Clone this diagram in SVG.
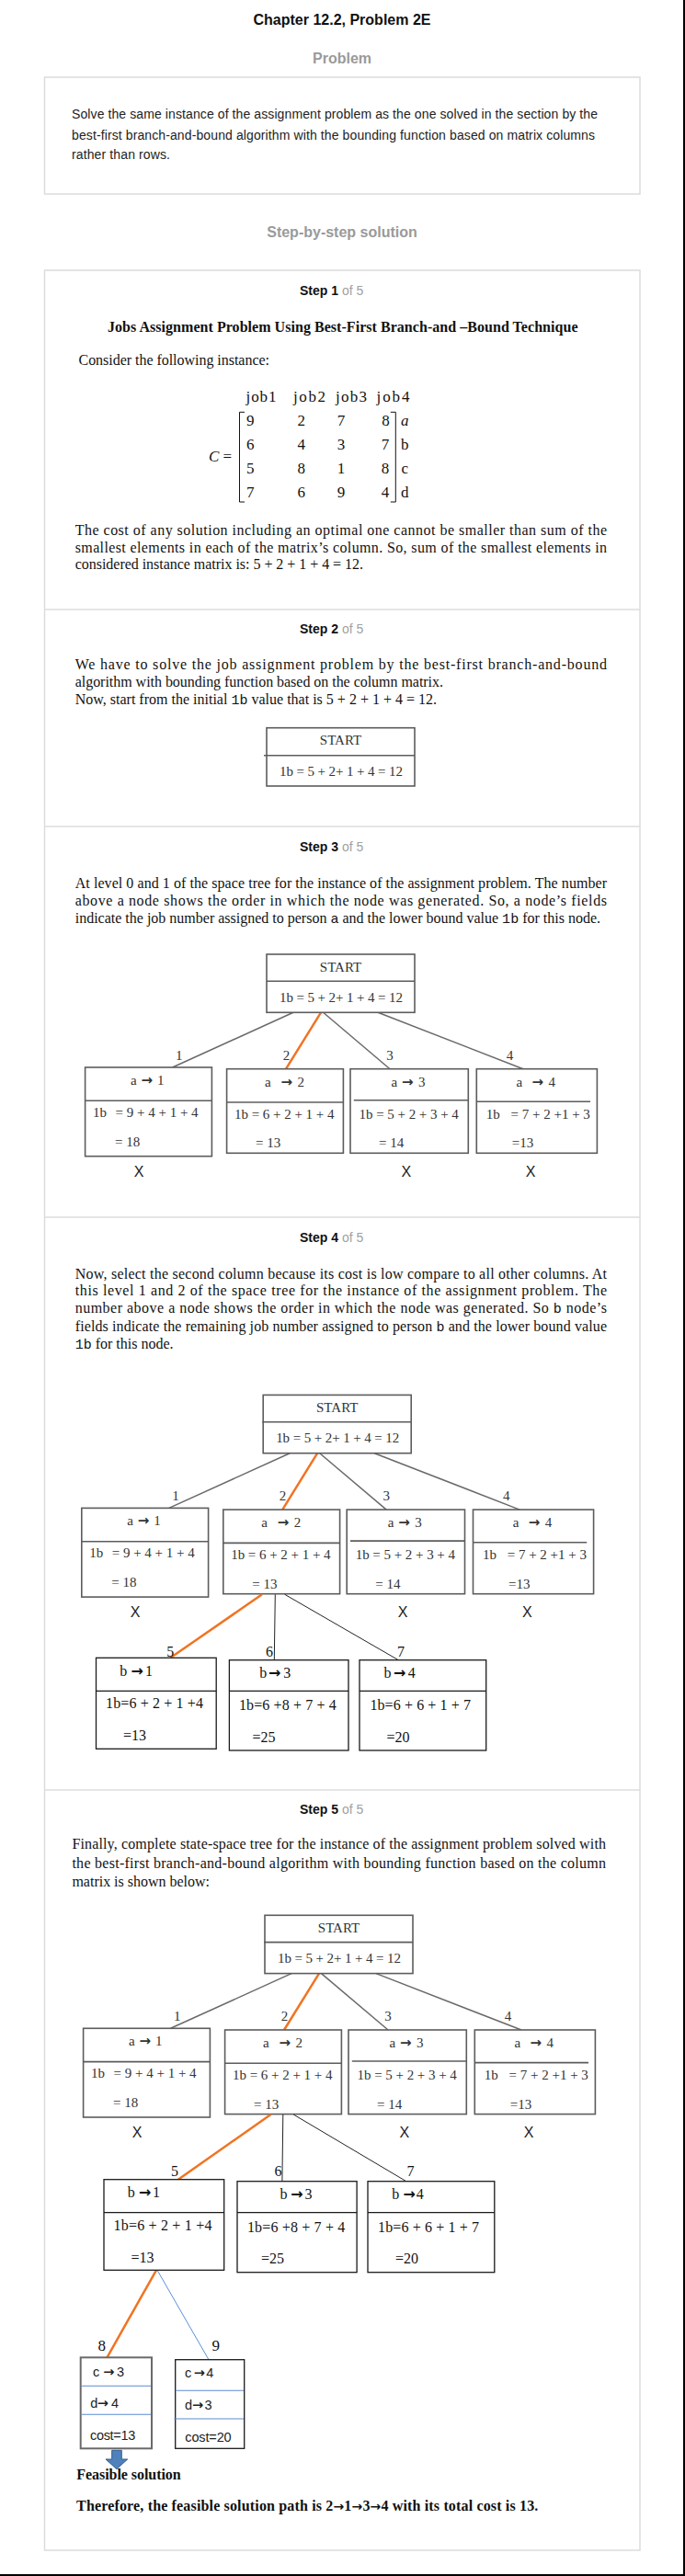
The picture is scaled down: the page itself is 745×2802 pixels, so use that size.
<svg xmlns="http://www.w3.org/2000/svg" width="745" height="2802" viewBox="0 0 745 2802">
<style>
.frame{fill:none;stroke:#dcdcdc;stroke-width:1.5}
.sep{stroke:#dcdcdc;stroke-width:1.5}
.mono{font-family:"Liberation Mono","Courier New",monospace;font-size:15px}
.ar{font-family:"DejaVu Sans",sans-serif;font-weight:bold}
.hd{font:bold 16px "Liberation Sans",Arial,sans-serif;fill:#111}
.gh{font:bold 16px "Liberation Sans",Arial,sans-serif;fill:#9a9a9a}
.st{font:bold 14px "Liberation Sans",Arial,sans-serif;fill:#111}
.of{font-weight:normal;fill:#a0a0a0}
.pb{font:14px "Liberation Sans",Arial,sans-serif;fill:#222}
.p{font:16px "Liberation Serif","Times New Roman",serif;fill:#111}
.pB{font:bold 16px "Liberation Serif","Times New Roman",serif;fill:#111}
.mx{font:17px "Liberation Serif","Times New Roman",serif;fill:#111}
.it{font-style:italic}
.bx{fill:#fff;stroke:#5c5c5c;stroke-width:1.6}
.dv{stroke:#5c5c5c;stroke-width:1.6}
.bk{fill:#fff;stroke:#1a1a1a;stroke-width:1.3}
.dk{stroke:#1a1a1a;stroke-width:1.3}
.bg{fill:#fff;stroke:#6a6a6a;stroke-width:2}
.db{stroke:#5b8bd0;stroke-width:1.1}
.tn{font:15px "Liberation Serif","Times New Roman",serif;fill:#333}
.tk{font:16px "Liberation Serif","Times New Roman",serif;fill:#111}
.tk17{font:17px "Liberation Serif","Times New Roman",serif;fill:#111}
.tc{font:14.5px "Liberation Sans",Arial,sans-serif;fill:#222}
.xm{font:16px "Liberation Sans",Arial,sans-serif;fill:#222;text-anchor:middle}
.ln{stroke:#6a6a6a;stroke-width:1.5;fill:none}
.or{stroke:#f07423;stroke-width:2.5;fill:none}
.lk{stroke:#222;stroke-width:1;fill:none}
.lb{stroke:#5b8fd6;stroke-width:1;fill:none}
.sa{font-size:14px}
</style>

<!-- page edges -->
<line x1="744" y1="0" x2="744" y2="2802" stroke="#000" stroke-width="2"/>
<line x1="0" y1="2801" x2="745" y2="2801" stroke="#000" stroke-width="2"/>

<!-- header -->
<text class="hd" x="372" y="27" text-anchor="middle">Chapter 12.2, Problem 2E</text>
<text class="gh" x="372" y="69" text-anchor="middle">Problem</text>
<rect class="frame" x="48.5" y="84" width="647.5" height="127"/>
<text class="pb" x="78" y="129" textLength="572">Solve the same instance of the assignment problem as the one solved in the section by the</text>
<text class="pb" x="78" y="151.5" textLength="569">best-first branch-and-bound algorithm with the bounding function based on matrix columns</text>
<text class="pb" x="78" y="173" textLength="107">rather than rows.</text>
<text class="gh" x="372" y="257.5" text-anchor="middle">Step-by-step solution</text>

<!-- solution frame -->
<rect class="frame" x="48.5" y="294" width="647.5" height="2480"/>
<line class="sep" x1="48.5" y1="663" x2="696" y2="663"/>
<line class="sep" x1="48.5" y1="899" x2="696" y2="899"/>
<line class="sep" x1="48.5" y1="1324" x2="696" y2="1324"/>
<line class="sep" x1="48.5" y1="1947" x2="696" y2="1947"/>

<!-- STEP 1 -->
<text class="st" x="326" y="320.5">Step 1 <tspan class="of">of 5</tspan></text>
<text class="pB" x="117" y="361" textLength="511.5">Jobs Assignment Problem Using Best-First Branch-and –Bound Technique</text>
<text class="p" x="85.5" y="396.7" textLength="207.5">Consider the following instance:</text>
<g id="matrix">
<text class="mx" x="267.5" y="436.7" textLength="33">job1</text>
<text class="mx" x="319" y="436.7" textLength="35">job2</text>
<text class="mx" x="365" y="436.7" textLength="34">job3</text>
<text class="mx" x="409.5" y="436.7" textLength="36">job4</text>
<text class="mx" x="227" y="502"><tspan class="it">C</tspan> =</text>
<path d="M266,448.3 H260.5 V546 H266" stroke="#111" stroke-width="1" fill="none"/>
<path d="M424.8,448.3 H430.3 V546 H424.8" stroke="#111" stroke-width="1" fill="none"/>
<g class="mx" text-anchor="middle">
<text x="272.3" y="462.7">9</text><text x="327.8" y="462.7">2</text><text x="371" y="462.7">7</text><text x="419.5" y="462.7">8</text>
<text x="272.3" y="489.3">6</text><text x="327.8" y="489.3">4</text><text x="371" y="489.3">3</text><text x="419" y="489.3">7</text>
<text x="272.3" y="515.3">5</text><text x="327.8" y="515.3">8</text><text x="371" y="515.3">1</text><text x="419" y="515.3">8</text>
<text x="272.3" y="541">7</text><text x="327.8" y="541">6</text><text x="371" y="541">9</text><text x="419" y="541">4</text>
</g>
<text class="mx it" x="436" y="462.7">a</text>
<text class="mx" x="436" y="489.3">b</text>
<text class="mx" x="436.5" y="515.3">c</text>
<text class="mx" x="436" y="541">d</text>
</g>
<text class="p" x="81.7" y="581.7" textLength="578.3">The cost of any solution including an optimal one cannot be smaller than sum of the</text>
<text class="p" x="81.7" y="600.7" textLength="578.3">smallest elements in each of the matrix’s column. So, sum of the smallest elements in</text>
<text class="p" x="81.7" y="619.3" textLength="313.3">considered instance matrix is: 5 + 2 + 1 + 4 = 12.</text>

<!-- STEP 2 -->
<text class="st" x="326" y="689.3">Step 2 <tspan class="of">of 5</tspan></text>
<text class="p" x="81.7" y="728.3" textLength="578.3">We have to solve the job assignment problem by the best-first branch-and-bound</text>
<text class="p" x="81.7" y="746.7" textLength="400.3">algorithm with bounding function based on the column matrix.</text>
<text class="p" x="81.7" y="766" textLength="393.3">Now, start from the initial <tspan class="mono">1b</tspan> value that is 5 + 2 + 1 + 4 = 12.</text>
<g id="s2-start" transform="translate(290,791.7)">
<rect class="bx" x="0" y="0" width="161" height="63.3"/>
<line class="dv" x1="-3" y1="30" x2="161" y2="30"/>
<text class="tn" x="80.5" y="18.4" text-anchor="middle">START</text>
<text class="tn" x="14" y="52.3" textLength="134">1b = 5 + 2+ 1 + 4 = 12</text>
</g>

<!-- STEP 3 -->
<text class="st" x="326" y="925.5">Step 3 <tspan class="of">of 5</tspan></text>
<text class="p" x="81.7" y="966" textLength="578.3">At level 0 and 1 of the space tree for the instance of the assignment problem. The number</text>
<text class="p" x="81.7" y="985" textLength="578.3">above a node shows the order in which the node was generated. So, a node’s fields</text>
<text class="p" x="81.7" y="1004.3" textLength="571.3">indicate the job number assigned to person <tspan class="mono">a</tspan> and the lower bound value <tspan class="mono">1b</tspan> for this node.</text>

<g id="s3-connectors">
<line class="ln" x1="319" y1="1101.3" x2="187.6" y2="1161"/>
<line class="or" x1="349" y1="1101.3" x2="311" y2="1162.7"/>
<line class="ln" x1="351.5" y1="1101.3" x2="424" y2="1162.7"/>
<line class="ln" x1="411" y1="1101.3" x2="569" y2="1162.7"/>
<g class="tn" text-anchor="middle">
<text x="194.8" y="1152.7">1</text><text x="311.4" y="1152.7">2</text><text x="424" y="1152.7">3</text><text x="554.6" y="1152.7">4</text>
</g>
</g>
<g id="s3-start" transform="translate(290,1038)">
<rect class="bx" x="0" y="0" width="161" height="63.3"/>
<line class="dv" x1="0" y1="29.3" x2="161" y2="29.3"/>
<text class="tn" x="80.5" y="18.7" text-anchor="middle">START</text>
<text class="tn" x="14" y="52" textLength="134">1b = 5 + 2+ 1 + 4 = 12</text>
</g>
<g id="s3-a1">
<rect class="bx" x="92.6" y="1161" width="137.8" height="96.7"/>
<line class="dv" x1="92.6" y1="1197.3" x2="230.4" y2="1197.3"/>
<text class="tn" y="1180"><tspan x="142">a</tspan><tspan class="ar" x="153.5">→</tspan><tspan x="171">1</tspan></text>
<text class="tn" y="1215"><tspan x="101">1b</tspan><tspan x="125.5">= 9 + 4 + 1 + 4</tspan></text>
<text class="tn" x="125" y="1246.7">= 18</text>
</g>
<g id="s3-a2">
<rect class="bx" x="246.6" y="1162.7" width="126.8" height="91.6"/>
<line class="dv" x1="246.6" y1="1199" x2="373.4" y2="1199"/>
<text class="tn" y="1182"><tspan x="288">a</tspan><tspan class="ar" x="305.5">→</tspan><tspan x="323.5">2</tspan></text>
<text class="tn" x="255" y="1216.7" textLength="108.4">1b = 6 + 2 + 1 + 4</text>
<text class="tn" x="278" y="1248.3">= 13</text>
</g>
<g id="s3-a3">
<rect class="bx" x="381" y="1162.7" width="128.3" height="91.6"/>
<line class="dv" x1="384.8" y1="1196.7" x2="509.3" y2="1196.7"/>
<text class="tn" y="1182"><tspan x="425.6">a</tspan><tspan class="ar" x="437">→</tspan><tspan x="455">3</tspan></text>
<text class="tn" x="390.5" y="1216.7" textLength="108.3">1b = 5 + 2 + 3 + 4</text>
<text class="tn" x="412" y="1248.3">= 14</text>
</g>
<g id="s3-a4">
<rect class="bx" x="518.3" y="1162.7" width="131.1" height="91.6"/>
<line class="dv" x1="518.3" y1="1198.3" x2="642" y2="1198.3"/>
<text class="tn" y="1182"><tspan x="561.5">a</tspan><tspan class="ar" x="578.6">→</tspan><tspan x="596.6">4</tspan></text>
<text class="tn" y="1216.7"><tspan x="528.7">1b</tspan><tspan x="555.5">= 7 + 2 +1 + 3</tspan></text>
<text class="tn" x="556.8" y="1248.3">=13</text>
</g>
<text class="xm" x="151" y="1280">X</text>
<text class="xm" x="441.8" y="1280">X</text>
<text class="xm" x="577.2" y="1280">X</text>

<!-- STEP 4 -->
<text class="st" x="326" y="1350.5">Step 4 <tspan class="of">of 5</tspan></text>
<text class="p" x="81.7" y="1390.7" textLength="578.3">Now, select the second column because its cost is low compare to all other columns. At</text>
<text class="p" x="81.7" y="1409" textLength="578.3">this level 1 and 2 of the space tree for the instance of the assignment problem. The</text>
<text class="p" x="81.7" y="1428.3" textLength="578.3">number above a node shows the order in which the node was generated. So <tspan class="mono">b</tspan> node’s</text>
<text class="p" x="81.7" y="1447.7" textLength="578.3">fields indicate the remaining job number assigned to person <tspan class="mono">b</tspan> and the lower bound value</text>
<text class="p" x="81.7" y="1467.3" textLength="106.9"><tspan class="mono">1b</tspan> for this node.</text>

<g transform="translate(-3.8,479.4)">
<g id="s4-connectors-top">
<line class="ln" x1="319" y1="1101.3" x2="187.6" y2="1161"/>
<line class="or" x1="349" y1="1101.3" x2="311" y2="1162.7"/>
<line class="ln" x1="351.5" y1="1101.3" x2="424" y2="1162.7"/>
<line class="ln" x1="411" y1="1101.3" x2="569" y2="1162.7"/>
<g class="tn" text-anchor="middle">
<text x="194.8" y="1152.7">1</text><text x="311.4" y="1152.7">2</text><text x="424" y="1152.7">3</text><text x="554.6" y="1152.7">4</text>
</g>
</g>
<g id="s4-start" transform="translate(290,1038)">
<rect class="bx" x="0" y="0" width="161" height="63.3"/>
<line class="dv" x1="-1" y1="29.3" x2="161" y2="29.3"/>
<text class="tn" x="80.5" y="18.7" text-anchor="middle">START</text>
<text class="tn" x="14" y="52" textLength="134">1b = 5 + 2+ 1 + 4 = 12</text>
</g>
<g id="s4-a1">
<rect class="bx" x="92.6" y="1161" width="137.8" height="96.7"/>
<line class="dv" x1="92.6" y1="1197.3" x2="230.4" y2="1197.3"/>
<text class="tn" y="1180"><tspan x="142">a</tspan><tspan class="ar" x="153.5">→</tspan><tspan x="171">1</tspan></text>
<text class="tn" y="1215"><tspan x="101">1b</tspan><tspan x="125.5">= 9 + 4 + 1 + 4</tspan></text>
<text class="tn" x="125" y="1246.7">= 18</text>
</g>
<g id="s4-a2">
<rect class="bx" x="246.6" y="1162.7" width="126.8" height="91.6"/>
<line class="dv" x1="246.6" y1="1199" x2="373.4" y2="1199"/>
<text class="tn" y="1182"><tspan x="288">a</tspan><tspan class="ar" x="305.5">→</tspan><tspan x="323.5">2</tspan></text>
<text class="tn" x="255" y="1216.7" textLength="108.4">1b = 6 + 2 + 1 + 4</text>
<text class="tn" x="278" y="1248.3">= 13</text>
</g>
<g id="s4-a3">
<rect class="bx" x="381" y="1162.7" width="128.3" height="91.6"/>
<line class="dv" x1="384.8" y1="1196.7" x2="509.3" y2="1196.7"/>
<text class="tn" y="1182"><tspan x="425.6">a</tspan><tspan class="ar" x="437">→</tspan><tspan x="455">3</tspan></text>
<text class="tn" x="390.5" y="1216.7" textLength="108.3">1b = 5 + 2 + 3 + 4</text>
<text class="tn" x="412" y="1248.3">= 14</text>
</g>
<g id="s4-a4">
<rect class="bx" x="518.3" y="1162.7" width="131.1" height="91.6"/>
<line class="dv" x1="518.3" y1="1198.3" x2="642" y2="1198.3"/>
<text class="tn" y="1182"><tspan x="561.5">a</tspan><tspan class="ar" x="578.6">→</tspan><tspan x="596.6">4</tspan></text>
<text class="tn" y="1216.7"><tspan x="528.7">1b</tspan><tspan x="555.5">= 7 + 2 +1 + 3</tspan></text>
<text class="tn" x="556.8" y="1248.3">=13</text>
</g>
<text class="xm" x="151" y="1280">X</text>
<text class="xm" x="441.8" y="1280">X</text>
<text class="xm" x="577.2" y="1280">X</text>
</g>

<g id="s4-connectors-b">
<line class="or" x1="285" y1="1734.3" x2="185.3" y2="1803.3"/>
<line class="lk" x1="299.3" y1="1734.3" x2="298.3" y2="1805.7"/>
<line class="lk" x1="309.7" y1="1734.3" x2="433.3" y2="1805.7"/>
<g class="tk" text-anchor="middle">
<text x="185.3" y="1801.7">5</text><text x="293" y="1801.7">6</text><text x="436" y="1801.7">7</text>
</g>
</g>
<g id="s4-b1">
<rect class="bk" x="104.5" y="1803.3" width="130.7" height="99"/>
<line class="dk" x1="104.5" y1="1839.3" x2="235.2" y2="1839.3"/>
<text class="tk" y="1822.7"><tspan x="130.2">b</tspan><tspan class="ar" x="142.5">→</tspan><tspan x="158">1</tspan></text>
<text class="tk" x="115" y="1858.3" textLength="106">1b=6 + 2 + 1 +4</text>
<text class="tk" x="134" y="1893.3">=13</text>
</g>
<g id="s4-b3">
<rect class="bk" x="249.4" y="1805.7" width="129.6" height="98.3"/>
<line class="dk" x1="249.4" y1="1839.3" x2="379" y2="1839.3"/>
<text class="tk" y="1825"><tspan x="282.3">b</tspan><tspan class="ar" x="292">→</tspan><tspan x="308.3">3</tspan></text>
<text class="tk" x="259.9" y="1860" textLength="105.9">1b=6 +8 + 7 + 4</text>
<text class="tk" x="274.6" y="1895">=25</text>
</g>
<g id="s4-b4">
<rect class="bk" x="391" y="1805.7" width="137.7" height="98.3"/>
<line class="dk" x1="391" y1="1839.3" x2="528.7" y2="1839.3"/>
<text class="tk" y="1825"><tspan x="417.6">b</tspan><tspan class="ar" x="428">→</tspan><tspan x="443.7">4</tspan></text>
<text class="tk" x="402.4" y="1860" textLength="109.6">1b=6 + 6 + 1 + 7</text>
<text class="tk" x="420.4" y="1895">=20</text>
</g>

<!-- STEP 5 -->
<text class="st" x="326" y="1972.5">Step 5 <tspan class="of">of 5</tspan></text>
<text class="p" x="78.4" y="2010.7" textLength="580.6">Finally, complete state-space tree for the instance of the assignment problem solved with</text>
<text class="p" x="78.4" y="2031.7" textLength="580.6">the best-first branch-and-bound algorithm with bounding function based on the column</text>
<text class="p" x="78.4" y="2052.3" textLength="149.6">matrix is shown below:</text>

<g transform="translate(-2,1045.3)">
<g id="s5-connectors-top">
<line class="ln" x1="319" y1="1101.3" x2="187.6" y2="1161"/>
<line class="or" x1="349" y1="1101.3" x2="311" y2="1162.7"/>
<line class="ln" x1="351.5" y1="1101.3" x2="424" y2="1162.7"/>
<line class="ln" x1="411" y1="1101.3" x2="569" y2="1162.7"/>
<g class="tn" text-anchor="middle">
<text x="194.8" y="1152.7">1</text><text x="311.4" y="1152.7">2</text><text x="424" y="1152.7">3</text><text x="554.6" y="1152.7">4</text>
</g>
</g>
<g id="s5-start" transform="translate(290,1038)">
<rect class="bx" x="0" y="0" width="161" height="63.3"/>
<line class="dv" x1="-1" y1="29.3" x2="161" y2="29.3"/>
<text class="tn" x="80.5" y="18.7" text-anchor="middle">START</text>
<text class="tn" x="14" y="52" textLength="134">1b = 5 + 2+ 1 + 4 = 12</text>
</g>
<g id="s5-a1">
<rect class="bx" x="92.6" y="1161" width="137.8" height="96.7"/>
<line class="dv" x1="92.6" y1="1197.3" x2="230.4" y2="1197.3"/>
<text class="tn" y="1180"><tspan x="142">a</tspan><tspan class="ar" x="153.5">→</tspan><tspan x="171">1</tspan></text>
<text class="tn" y="1215"><tspan x="101">1b</tspan><tspan x="125.5">= 9 + 4 + 1 + 4</tspan></text>
<text class="tn" x="125" y="1246.7">= 18</text>
</g>
<g id="s5-a2">
<rect class="bx" x="246.6" y="1162.7" width="126.8" height="91.6"/>
<line class="dv" x1="246.6" y1="1199" x2="373.4" y2="1199"/>
<text class="tn" y="1182"><tspan x="288">a</tspan><tspan class="ar" x="305.5">→</tspan><tspan x="323.5">2</tspan></text>
<text class="tn" x="255" y="1216.7" textLength="108.4">1b = 6 + 2 + 1 + 4</text>
<text class="tn" x="278" y="1248.3">= 13</text>
</g>
<g id="s5-a3">
<rect class="bx" x="381" y="1162.7" width="128.3" height="91.6"/>
<line class="dv" x1="384.8" y1="1196.7" x2="509.3" y2="1196.7"/>
<text class="tn" y="1182"><tspan x="425.6">a</tspan><tspan class="ar" x="437">→</tspan><tspan x="455">3</tspan></text>
<text class="tn" x="390.5" y="1216.7" textLength="108.3">1b = 5 + 2 + 3 + 4</text>
<text class="tn" x="412" y="1248.3">= 14</text>
</g>
<g id="s5-a4">
<rect class="bx" x="518.3" y="1162.7" width="131.1" height="91.6"/>
<line class="dv" x1="518.3" y1="1198.3" x2="642" y2="1198.3"/>
<text class="tn" y="1182"><tspan x="561.5">a</tspan><tspan class="ar" x="578.6">→</tspan><tspan x="596.6">4</tspan></text>
<text class="tn" y="1216.7"><tspan x="528.7">1b</tspan><tspan x="555.5">= 7 + 2 +1 + 3</tspan></text>
<text class="tn" x="556.8" y="1248.3">=13</text>
</g>
<text class="xm" x="151" y="1280">X</text>
<text class="xm" x="441.8" y="1280">X</text>
<text class="xm" x="577.2" y="1280">X</text>
</g>

<g id="s5-connectors-low">
<line class="or" x1="294.5" y1="2300" x2="193.8" y2="2370.7"/>
<line class="lk" x1="307.8" y1="2300" x2="306.9" y2="2372.7"/>
<line class="lk" x1="319.2" y1="2300" x2="441.8" y2="2372.7"/>
<line class="or" x1="170" y1="2469.3" x2="116.4" y2="2564.3"/>
<line class="lb" x1="171" y1="2469.3" x2="227" y2="2566.7"/>
<g class="tk" text-anchor="middle">
<text x="190" y="2366.7">5</text><text x="302.6" y="2366.7">6</text><text x="446.5" y="2366.7">7</text>
</g>
<g class="tk17" text-anchor="middle">
<text x="110.7" y="2557.3">8</text><text x="234.7" y="2557.3">9</text>
</g>
</g>
<g id="s5-b1">
<rect class="bk" x="113" y="2370.7" width="130.7" height="98.6"/>
<line class="dk" x1="113" y1="2406.7" x2="243.7" y2="2406.7"/>
<text class="tk" y="2390"><tspan x="138.8">b</tspan><tspan class="ar" x="151">→</tspan><tspan x="166">1</tspan></text>
<text class="tk" x="123.5" y="2425.7" textLength="106.9">1b=6 + 2 + 1 +4</text>
<text class="tk" x="142.5" y="2460.7">=13</text>
</g>
<g id="s5-b3">
<rect class="bk" x="258" y="2372.7" width="130.1" height="99"/>
<line class="dk" x1="258" y1="2406.7" x2="388.1" y2="2406.7"/>
<text class="tk" y="2391.7"><tspan x="304.6">b</tspan><tspan class="ar" x="316.3">→</tspan><tspan x="331.5">3</tspan></text>
<text class="tk" x="268.9" y="2428.3" textLength="106.4">1b=6 +8 + 7 + 4</text>
<text class="tk" x="284" y="2462">=25</text>
</g>
<g id="s5-b4">
<rect class="bk" x="400" y="2372.7" width="137.8" height="99"/>
<line class="dk" x1="400" y1="2406.7" x2="537.8" y2="2406.7"/>
<text class="tk" y="2391.7"><tspan x="426.2">b</tspan><tspan class="ar" x="438.4">→</tspan><tspan x="452.7">4</tspan></text>
<text class="tk" x="411" y="2428.3" textLength="110">1b=6 + 6 + 1 + 7</text>
<text class="tk" x="430" y="2462">=20</text>
</g>
<g id="s5-c3">
<rect class="bg" x="87.7" y="2564.3" width="77.3" height="99"/>
<line class="db" x1="88.7" y1="2595.3" x2="164" y2="2595.3"/>
<line class="db" x1="88.7" y1="2626.3" x2="164" y2="2626.3"/>
<text class="tc" y="2585"><tspan x="101">c</tspan><tspan class="ar" x="112.3">→</tspan><tspan x="127">3</tspan></text>
<text class="tc" y="2619"><tspan x="98.3">d</tspan><tspan class="ar" x="105.7">→</tspan><tspan x="121">4</tspan></text>
<text class="tc" x="98" y="2654.3" textLength="49.3">cost=13</text>
</g>
<g id="s5-c4">
<rect class="bk" x="190.7" y="2566.7" width="75" height="96.6"/>
<line class="db" x1="191.3" y1="2600.3" x2="265" y2="2600.3"/>
<line class="db" x1="189.3" y1="2631" x2="265" y2="2631"/>
<text class="tc" y="2586"><tspan x="201">c</tspan><tspan class="ar" x="210.7">→</tspan><tspan x="224.3">4</tspan></text>
<text class="tc" y="2621"><tspan x="201">d</tspan><tspan class="ar" x="209">→</tspan><tspan x="222.6">3</tspan></text>
<text class="tc" x="201.3" y="2655.7" textLength="50.4">cost=20</text>
</g>
<g id="feasible-arrow">
<path d="M121.7,2665.3 H132.3 V2675 H138.7 L126.8,2685.7 L115,2675 H121.7 Z" fill="#4f81bd" stroke="#385d8a" stroke-width="1"/>
</g>
<text class="pB" x="83.3" y="2696.7" textLength="113.4">Feasible solution</text>
<text class="pB" x="83.1" y="2730.7" textLength="502.2">Therefore, the feasible solution path is 2<tspan class="ar sa">→</tspan>1<tspan class="ar sa">→</tspan>3<tspan class="ar sa">→</tspan>4 with its total cost is 13.</text>
</svg>
